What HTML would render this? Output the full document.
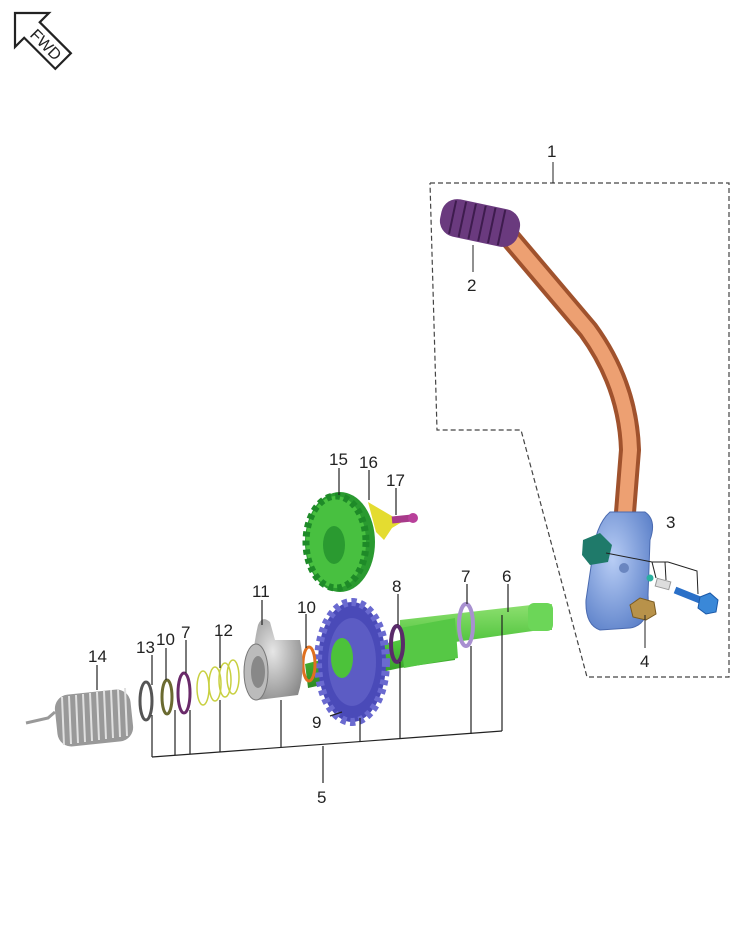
<!DOCTYPE html>
<html><head><style>
html,body{margin:0;padding:0;background:#fff}
svg{display:block}
text{font-family:"Liberation Sans",sans-serif;font-size:17px;fill:#222}
</style></head><body>
<svg width="752" height="942" viewBox="0 0 752 942" xmlns="http://www.w3.org/2000/svg">
<defs>
<linearGradient id="gr" x1="0" y1="0" x2="0" y2="1"><stop offset="0" stop-color="#8ee070"/><stop offset=".5" stop-color="#4cc23a"/><stop offset="1" stop-color="#2e8a22"/></linearGradient>
<radialGradient id="bl" cx=".4" cy=".4" r=".7"><stop offset="0" stop-color="#b8cdf5"/><stop offset="1" stop-color="#5a7fc8"/></radialGradient>
<radialGradient id="gy" cx=".4" cy=".4" r=".7"><stop offset="0" stop-color="#e6e6e6"/><stop offset="1" stop-color="#8a8a8a"/></radialGradient>
</defs>

<!-- FWD arrow -->
<g transform="translate(15,13) rotate(45)" fill="#fff" stroke="#222" stroke-width="2.2">
<polygon points="0,0 24,-24 24,-11 68,-11 68,11 24,11 24,24"/>
<text x="26" y="6" style="font-size:16px;fill:#222;stroke:none">FWD</text>
</g>

<!-- dashed box -->
<polyline points="430,183 729,183 729,677 587,677 521,430 437,430 430,183" fill="none" stroke="#444" stroke-width="1.2" stroke-dasharray="5,3"/>
<line x1="553" y1="162" x2="553" y2="183" stroke="#222"/>
<text x="547" y="157">1</text>

<!-- pedal tube -->
<path d="M505,232 L588,330 Q628,385 630,450 L624,525" fill="none" stroke="#a0522d" stroke-width="22" stroke-linecap="round"/>
<path d="M505,232 L588,330 Q628,385 630,450 L624,525" fill="none" stroke="#eda072" stroke-width="14" stroke-linecap="round"/>
<!-- grip -->
<g transform="translate(480,223) rotate(12)">
<rect x="-40" y="-19" width="80" height="38" rx="16" fill="#6a3a7e"/>
<g stroke="#3e1c4e" stroke-width="2">
<line x1="-28" y1="-17" x2="-28" y2="17"/><line x1="-18" y1="-18" x2="-18" y2="18"/><line x1="-8" y1="-18" x2="-8" y2="18"/><line x1="2" y1="-18" x2="2" y2="18"/><line x1="12" y1="-18" x2="12" y2="18"/><line x1="22" y1="-18" x2="22" y2="18"/>
</g></g>
<line x1="473" y1="245" x2="473" y2="272" stroke="#222"/>
<text x="467" y="291">2</text>

<!-- blue boss -->
<path d="M610,512 L645,512 Q657,520 650,540 L648,595 Q650,625 630,628 L600,630 Q585,625 586,600 L592,560 Q595,525 610,512Z" fill="url(#bl)" stroke="#4a6ab0" stroke-width="1"/>
<polygon points="583,540 600,533 612,545 608,562 590,565 582,555" fill="#1f7a6a"/>
<circle cx="624" cy="568" r="5" fill="#6a86c0"/>
<polygon points="630,605 640,598 654,602 656,614 646,620 633,617" fill="#b8924a" stroke="#7a5a20"/>
<circle cx="650" cy="578" r="3.5" fill="#2ab0a0"/>
<rect x="656" y="580" width="14" height="8" fill="#ddd" stroke="#999" transform="rotate(15 663 584)"/>
<line x1="675" y1="590" x2="700" y2="600" stroke="#2a70c8" stroke-width="7"/>
<polygon points="700,597 710,593 718,600 716,612 706,614 698,608" fill="#3a88d8" stroke="#1a58a8"/>
<g stroke="#222" fill="none">
<polyline points="606,553 652,562 668,562"/>
<line x1="652" y1="562" x2="656" y2="578"/>
<line x1="665" y1="562" x2="666" y2="580"/>
<polyline points="668,562 697,571 698,594"/>
</g>
<text x="666" y="528">3</text>
<line x1="645" y1="615" x2="645" y2="648" stroke="#222"/>
<text x="640" y="667">4</text>

<!-- shaft -->
<polygon points="305,664 400,640 400,620 540,604 552,604 552,630 540,630 455,642 455,660 400,668 308,688" fill="url(#gr)"/>
<polygon points="400,628 455,618 458,658 404,668" fill="#56c845"/>
<rect x="528" y="603" width="25" height="28" rx="6" fill="#6cd658"/>
<!-- gear 15 -->
<ellipse cx="340" cy="542" rx="35" ry="50" fill="#2a9a30"/>
<ellipse cx="336" cy="542" rx="30" ry="46" fill="#48c040" stroke="#1e8a28" stroke-width="7" stroke-dasharray="5,4"/>
<ellipse cx="334" cy="545" rx="11" ry="19" fill="#2a9a30"/>
<!-- 16 17 -->
<polygon points="368,502 402,522 392,528 384,540 376,532" fill="#e4dc30"/>
<line x1="392" y1="520" x2="412" y2="518" stroke="#a83a8a" stroke-width="7"/>
<circle cx="413" cy="518" r="5" fill="#b8409a"/>
<!-- gear 9 -->
<ellipse cx="352" cy="662" rx="34" ry="60" fill="#4a4ab8" stroke="#6a6ad0" stroke-width="8" stroke-dasharray="5,4"/>
<ellipse cx="352" cy="662" rx="24" ry="44" fill="#5c5cc4"/>
<ellipse cx="342" cy="658" rx="11" ry="20" fill="#4cc23a"/>
<!-- washers -->
<ellipse cx="397" cy="644" rx="6" ry="18" fill="none" stroke="#5a2a6a" stroke-width="4"/>
<ellipse cx="466" cy="625" rx="7" ry="21" fill="none" stroke="#a890d0" stroke-width="4"/>
<ellipse cx="309" cy="664" rx="6" ry="17" fill="none" stroke="#e07020" stroke-width="3"/>
<!-- part 11 -->
<path d="M258,625 Q262,615 270,622 L275,640 L300,640 Q306,670 298,695 L258,700 Q248,668 258,625Z" fill="url(#gy)"/>
<ellipse cx="256" cy="672" rx="12" ry="28" fill="#bbb" stroke="#777"/>
<ellipse cx="258" cy="672" rx="7" ry="16" fill="#888"/>
<!-- spring 12 -->
<g fill="none" stroke="#c8d040" stroke-width="1.5">
<ellipse cx="203" cy="688" rx="6" ry="17"/><ellipse cx="215" cy="684" rx="6" ry="17"/><ellipse cx="225" cy="680" rx="6" ry="17"/><ellipse cx="233" cy="677" rx="6" ry="17"/></g>
<ellipse cx="184" cy="693" rx="6" ry="20" fill="none" stroke="#6a2a6a" stroke-width="3"/>
<ellipse cx="167" cy="697" rx="5" ry="17" fill="none" stroke="#6a6a30" stroke-width="3"/>
<ellipse cx="146" cy="701" rx="6" ry="19" fill="none" stroke="#555" stroke-width="3"/>
<!-- spring 14 -->
<rect x="56" y="692" width="76" height="52" rx="14" fill="#999" transform="rotate(-6 94 718)"/>
<g stroke="#e0e0e0" stroke-width="2">
<line x1="62" y1="697" x2="64" y2="745"/><line x1="69" y1="696" x2="71" y2="744"/><line x1="76" y1="695" x2="78" y2="743"/><line x1="83" y1="694" x2="85" y2="742"/><line x1="90" y1="693" x2="92" y2="741"/><line x1="97" y1="692" x2="99" y2="740"/><line x1="104" y1="691" x2="106" y2="739"/><line x1="111" y1="690" x2="113" y2="738"/><line x1="118" y1="689" x2="120" y2="737"/><line x1="125" y1="688" x2="127" y2="736"/></g>
<polyline points="26,723 48,718 55,712" fill="none" stroke="#999" stroke-width="3"/>

<!-- leaders -->
<g stroke="#222" stroke-width="1.2" fill="none">
<line x1="97" y1="665" x2="97" y2="690"/>
<line x1="152" y1="655" x2="152" y2="685"/>
<line x1="166" y1="648" x2="166" y2="680"/>
<line x1="186" y1="640" x2="186" y2="673"/>
<line x1="220" y1="636" x2="220" y2="668"/>
<line x1="262" y1="600" x2="262" y2="625"/>
<line x1="306" y1="614" x2="306" y2="648"/>
<line x1="398" y1="594" x2="398" y2="625"/>
<line x1="467" y1="584" x2="467" y2="604"/>
<line x1="508" y1="584" x2="508" y2="612"/>
<line x1="339" y1="468" x2="339" y2="495"/>
<line x1="369" y1="470" x2="369" y2="500"/>
<line x1="396" y1="488" x2="396" y2="515"/>
<line x1="330" y1="716" x2="342" y2="712"/>
<polyline points="152,757 502,731"/>
<line x1="152" y1="715" x2="152" y2="757"/>
<line x1="175" y1="710" x2="175" y2="755"/>
<line x1="190" y1="710" x2="190" y2="754"/>
<line x1="220" y1="700" x2="220" y2="752"/>
<line x1="281" y1="700" x2="281" y2="747"/>
<line x1="360" y1="718" x2="360" y2="742"/>
<line x1="400" y1="662" x2="400" y2="739"/>
<line x1="471" y1="646" x2="471" y2="734"/>
<line x1="502" y1="615" x2="502" y2="731"/>
<line x1="323" y1="746" x2="323" y2="783"/>
</g>
<text x="88" y="662">14</text>
<text x="136" y="653">13</text>
<text x="156" y="645">10</text>
<text x="181" y="638">7</text>
<text x="214" y="636">12</text>
<text x="252" y="597">11</text>
<text x="297" y="613">10</text>
<text x="392" y="592">8</text>
<text x="461" y="582">7</text>
<text x="502" y="582">6</text>
<text x="312" y="728">9</text>
<text x="317" y="803">5</text>
<text x="329" y="465">15</text>
<text x="359" y="468">16</text>
<text x="386" y="486">17</text>
</svg>
</body></html>
